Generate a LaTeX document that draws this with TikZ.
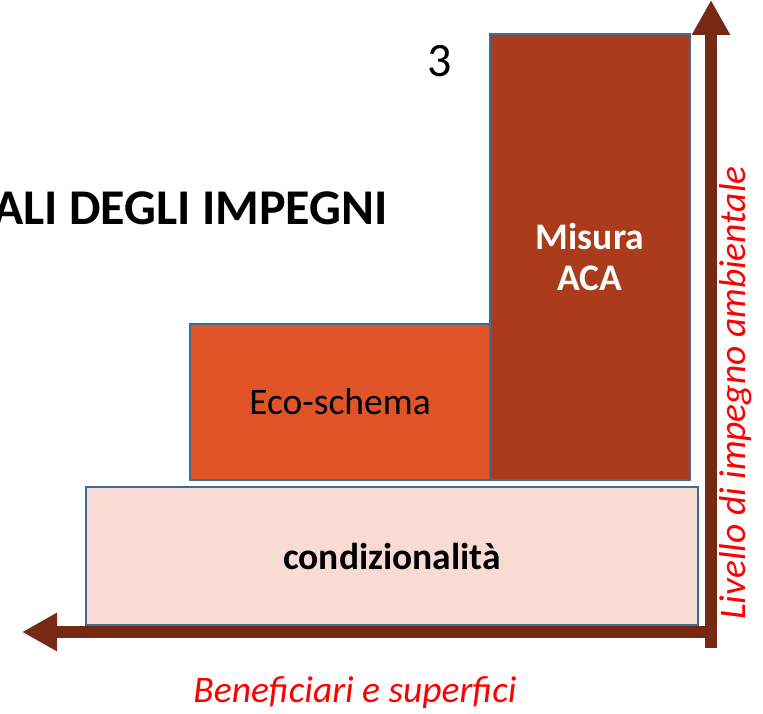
\documentclass[tikz,border=0pt]{standalone}
\usepackage{fontspec}
\setmainfont{Carlito}
\usetikzlibrary{arrows.meta}
\definecolor{acared}{RGB}{170,59,27}
\definecolor{ecoorange}{RGB}{224,84,40}
\definecolor{condpink}{RGB}{248,220,212}
\definecolor{boxblue}{RGB}{60,110,145}
\definecolor{axisbrown}{RGB}{119,41,20}
\definecolor{labelred}{RGB}{255,0,0}
\begin{document}
\begin{tikzpicture}[x=1pt,y=-1pt,
    block/.style={draw=boxblue,line width=2pt,inner sep=0pt,anchor=north west},
    axis/.style={draw=axisbrown,line width=12pt,-{Triangle[length=35pt,width=36pt]}},
    axislabel/.style={text=labelred,font=\fontsize{37.5}{42}\selectfont\itshape}]
    \useasboundingbox (0,0) rectangle (763,714);
    \node[block,fill=condpink,minimum width=612pt,minimum height=138pt,
        font=\bfseries\fontsize{37.5}{42}\selectfont] (cond) at (85,486) {condizionalità};
    \node[block,fill=ecoorange,minimum width=300pt,minimum height=156pt,
        font=\fontsize{37.5}{42}\selectfont] (eco) at (189,323) {Eco-schema};
    \node[block,fill=acared,minimum width=200pt,minimum height=446pt,align=center,
        text=white,font=\bfseries\fontsize{37.5}{41}\selectfont] (aca) at (489,33) {Misura\\ACA};
    \coordinate (ytop) at (711,0);
    \coordinate (ybot) at (711,648);
    \coordinate (xend) at (22,632);
    \coordinate (xstart) at (717,632);
    \draw[axis] (ybot) -- (ytop);
    \draw[axis] (xstart) -- (xend);
    \node[font=\fontsize{48}{52}\selectfont] (num) at (440,61) {3};
    \node[anchor=east,font=\bfseries\fontsize{50}{54}\selectfont] (title) at (391,208) {ALI DEGLI IMPEGNI};
    \node[axislabel,rotate=90] (ylab) at (736,393) {Livello di impegno ambientale};
    \node[axislabel] (xlab) at (355,693) {Beneficiari e superfici};
\end{tikzpicture}
\end{document}
